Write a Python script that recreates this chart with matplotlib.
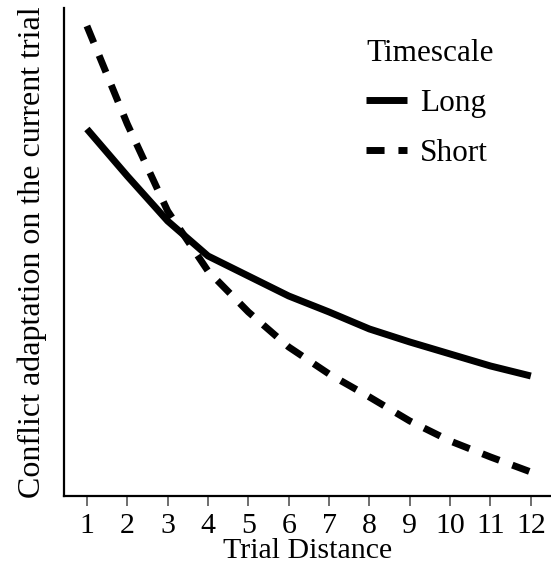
import matplotlib
matplotlib.use("Agg")
import matplotlib.pyplot as plt

trial_distance = [1, 2, 3, 4, 5, 6, 7, 8, 9, 10, 11, 12]
long_vals = [3.67, 3.20, 2.75, 2.40, 2.20, 2.00, 1.84, 1.67, 1.54, 1.42, 1.30, 1.20]
short_vals = [4.70, 3.72, 2.85, 2.25, 1.84, 1.49, 1.22, 0.99, 0.75, 0.55, 0.39, 0.24]
series_names = ["Long", "Short"]
legend_title = "Timescale"
xlabel = "Trial Distance"
ylabel = "Conflict adaptation on the current trial"

plt.rcParams['font.family'] = ['Liberation Serif', 'DejaVu Serif']

fig = plt.figure(figsize=(5.51, 5.82), dpi=100)
ax = fig.add_axes([0.116, 0.1478, 0.884, 0.8385])

ax.plot(trial_distance, long_vals, color='black', lw=5, solid_capstyle='butt',
        solid_joinstyle='round', label=series_names[0])
ax.plot(trial_distance, short_vals, color='black', lw=5, linestyle=(0, (2.6, 2.0)),
        dash_capstyle='butt', label=series_names[1])

ax.set_xlim(0.43, 12.5)
ax.set_ylim(0, 4.88)
ax.set_xticks(trial_distance)
ax.set_xticklabels([str(t) for t in trial_distance], fontsize=21.5)
ax.set_yticks([])
ax.tick_params(axis='x', length=7.5, width=1.2, color='#555555', pad=5)
for s in ['top', 'right']:
    ax.spines[s].set_visible(False)
for s in ['left', 'bottom']:
    ax.spines[s].set_linewidth(1.6)
ax.set_xlabel(xlabel, fontsize=21.5, labelpad=-1)
ax.set_ylabel(ylabel, fontsize=23, labelpad=12)

leg = ax.legend(title=legend_title, frameon=False, fontsize=22.5, title_fontsize=22.5,
                loc='upper left', bbox_to_anchor=(0.563, 0.995), handlelength=1.3,
                handletextpad=0.42, labelspacing=0.68, alignment='left')

fig.savefig("out.png", dpi=100)
